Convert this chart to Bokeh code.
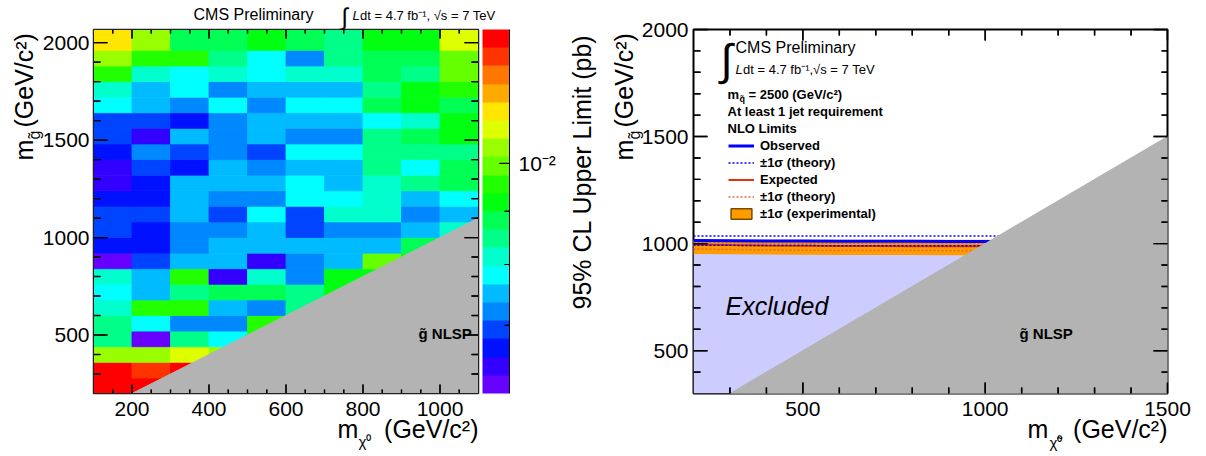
import math
from bokeh.plotting import figure
from bokeh.layouts import row
from bokeh.models import (ColumnDataSource, LogColorMapper, ColorBar, FixedTicker, Label,
                          SingleIntervalTicker, Legend, LegendItem, Range1d, Arrow,
                          BoxAnnotation)
from bokeh.embed import file_html
from bokeh.resources import INLINE

FONT = "Liberation Sans"
N = None

# ---------------- data : left panel (95% CL upper limit map, pb) ----------------
mchi_edges = [100, 200, 300, 400, 500, 600, 700, 800, 900, 1000, 1100]
mgluino_edges = [200, 280, 360, 440, 520, 600, 680, 760, 840, 920, 1000, 1080, 1160,
                 1240, 1320, 1400, 1480, 1560, 1640, 1720, 1800, 1880, 1960, 2067]
# rows from bottom (m_gluino 200-280) to top, columns m_chi 100..1100
upper_limit_pb = [
    [0.01315, 0.01315, N, N, N, N, N, N, N, N],
    [0.01315, 0.01263, 0.01315, N, N, N, N, N, N, N],
    [0.01034, 0.01034, 0.01076, 0.01034, N, N, N, N, N, N],
    [0.00846, 0.00614, 0.00846, 0.00781, 0.00954, N, N, N, N, N],
    [0.00846, 0.00781, 0.00721, 0.00721, 0.00954, N, N, N, N, N],
    [0.00813, 0.00954, 0.00954, 0.00750, 0.00721, 0.00846, N, N, N, N],
    [0.00781, 0.00750, 0.00846, 0.00881, 0.00881, 0.00846, 0.00917, N, N, N],
    [0.00813, 0.00750, 0.00954, 0.00639, 0.00813, 0.00721, 0.00917, 0.00917, N, N],
    [0.00614, 0.00693, 0.00750, 0.00750, 0.00639, 0.00721, 0.00750, 0.00993, 0.00917, N],
    [0.00665, 0.00665, 0.00721, 0.00750, 0.00750, 0.00750, 0.00750, 0.00750, 0.00881, N],
    [0.00693, 0.00665, 0.00721, 0.00721, 0.00750, 0.00693, 0.00721, 0.00721, 0.00750, 0.00813],
    [0.00693, 0.00693, 0.00750, 0.00693, 0.00781, 0.00693, 0.00813, 0.00813, 0.00721, 0.00750],
    [0.00665, 0.00665, 0.00750, 0.00721, 0.00721, 0.00781, 0.00781, 0.00813, 0.00750, 0.00781],
    [0.00639, 0.00665, 0.00750, 0.00750, 0.00750, 0.00781, 0.00750, 0.00813, 0.00846, 0.00881],
    [0.00639, 0.00693, 0.00665, 0.00750, 0.00721, 0.00750, 0.00750, 0.00846, 0.00781, 0.00881],
    [0.00665, 0.00721, 0.00693, 0.00721, 0.00693, 0.00781, 0.00781, 0.00846, 0.00846, 0.00846],
    [0.00693, 0.00639, 0.00750, 0.00721, 0.00750, 0.00721, 0.00721, 0.00846, 0.00881, 0.00917],
    [0.00693, 0.00693, 0.00665, 0.00721, 0.00750, 0.00750, 0.00750, 0.00781, 0.00813, 0.00917],
    [0.00781, 0.00750, 0.00721, 0.00781, 0.00721, 0.00781, 0.00781, 0.00881, 0.00917, 0.00881],
    [0.00813, 0.00750, 0.00781, 0.00721, 0.00750, 0.00750, 0.00750, 0.00846, 0.00917, 0.00954],
    [0.00954, 0.00813, 0.00781, 0.00813, 0.00781, 0.00813, 0.00813, 0.00881, 0.00846, 0.00993],
    [0.01034, 0.00954, 0.00954, 0.00846, 0.00781, 0.00721, 0.00846, 0.00881, 0.00881, 0.00993],
    [0.01120, 0.01034, 0.00881, 0.00881, 0.00917, 0.00881, 0.00846, 0.00917, 0.00917, 0.01076],
]
z_low, z_high = 0.00602, 0.01343
palette = ["#6600FF", "#3300FF", "#0011FF", "#0044FF", "#0088FF", "#00BBFF", "#00FFFF",
           "#00FFCC", "#00FF88", "#00FF55", "#00FF11", "#22FF00", "#66FF00", "#99FF00",
           "#DDFF00", "#FFE600", "#FFAA00", "#FF7700", "#FF3300", "#FF0000"]
cbar_ticks = [0.01]
cbar_minor_ticks = [0.007, 0.008, 0.009]
cbar_labels = {0.01: "10⁻²"}
nlsp_left_x = [200, 1100, 1100]
nlsp_left_y = [200, 200, 1100]

# tick values (left panel)
L_xmajor = [200, 400, 600, 800, 1000]
L_xminor = [150, 250, 300, 350, 450, 500, 550, 650, 700, 750, 850, 900, 950, 1050]
L_ymajor = [500, 1000, 1500, 2000]
L_yminor = [300, 400, 600, 700, 800, 900, 1100, 1200, 1300, 1400, 1600, 1700, 1800, 1900]

# ---------------- data : right panel (exclusion contours) ----------------
mchi = [200, 300, 400, 500, 600, 700, 800, 900, 1000, 1100]
observed = [1014, 1013, 1012, 1012, 1011, 1011, 1011, 1010, 1010, 1010]
observed_up = [1036, 1036, 1035, 1035, 1035, 1035, 1035, 1035, 1035, 1035]
observed_dn = [993, 992, 991, 991, 990, 990, 990, 990, 990, 990]
expected = [996, 993, 991, 990, 989, 989, 988, 988, 988, 988]
expected_th_up = [1006, 1004, 1003, 1002, 1002, 1001, 1001, 1001, 1001, 1001]
expected_th_dn = [975, 972, 970, 969, 968, 968, 968, 967, 967, 967]
expected_exp_up = [1019, 1018, 1018, 1018, 1018, 1018, 1018, 1018, 1018, 1018]
expected_exp_dn = [952, 950, 949, 948, 947, 947, 947, 946, 946, 946]
nlsp_right_x = [300, 1500, 1500]
nlsp_right_y = [300, 300, 1500]

R_xmajor = [500, 1000, 1500]
R_xminor = [300, 400, 600, 700, 800, 900, 1100, 1200, 1300, 1400]
R_ymajor = [500, 1000, 1500, 2000]
R_yminor = [400, 600, 700, 800, 900, 1100, 1200, 1300, 1400, 1600, 1700, 1800, 1900]

# ---------------- layout constants (page pixels) ----------------
L_X, L_Y = (100, 1100), (200, 2067)
L_FRAME = (93, 478, 29, 393)          # left, right, top, bottom
R_X, R_Y = (200, 1500), (300, 2000)
R_FRAME = (693, 1167, 29, 393)
CB_BOX = (482, 509)


def style_axis(ax, standoff):
    ax.major_label_text_font = FONT
    ax.major_label_text_font_size = "21px"
    ax.major_label_text_color = "black"
    ax.axis_line_color = None
    ax.major_tick_in = 0
    ax.major_tick_out = 0
    ax.minor_tick_in = 0
    ax.minor_tick_out = 0
    ax.major_label_standoff = standoff
    ax.axis_label = None


def make_fig(width, xr, yr, fr, fig_left):
    l, r, t, b = fr
    p = figure(width=width, height=456, x_range=Range1d(*xr), y_range=Range1d(*yr),
               output_backend="svg", toolbar_location=None, title=None,
               min_border_left=l - fig_left, min_border_right=fig_left + width - r,
               min_border_top=t, min_border_bottom=456 - b)
    p.grid.visible = False
    p.background_fill_color = "white"
    p.border_fill_color = "white"
    p.outline_line_color = "black"
    return p


def tick_segments(xr, yr, fr, xmaj, xmin, ymaj, ymin, lxM, lxm, lyM, lym, lym_r):
    """ROOT-style inward ticks on all four frame sides, in page pixels."""
    l, r, t, b = fr
    seg = dict(x0=[], y0=[], x1=[], y1=[])

    def add(a, b_, c, d):
        seg["x0"].append(a); seg["y0"].append(b_); seg["x1"].append(c); seg["y1"].append(d)

    for vals, ln in ((xmaj, lxM), (xmin, lxm)):
        for v in vals:
            X = l + (v - xr[0]) * (r - l) / (xr[1] - xr[0])
            add(X, b, X, b - ln)
            add(X, t, X, t + ln)
    for vals, ln, lnr in ((ymaj, lyM, lyM), (ymin, lym, lym_r)):
        for v in vals:
            Y = b - (v - yr[0]) * (b - t) / (yr[1] - yr[0])
            add(l, Y, l + ln, Y)
            add(r, Y, r - lnr, Y)
    return seg


def inner_ticks(p, xr, yr, fr, seg, width):
    """Same ticks drawn inside the panel itself, in its data units."""
    l, r, t, b = fr
    to_x = lambda px: xr[0] + (px - l) * (xr[1] - xr[0]) / (r - l)
    to_y = lambda py: yr[0] + (b - py) * (yr[1] - yr[0]) / (b - t)
    xs = [[to_x(a), to_x(c)] for a, c in zip(seg["x0"], seg["x1"])]
    ys = [[to_y(a), to_y(c)] for a, c in zip(seg["y0"], seg["y1"])]
    p.multi_line(xs=xs, ys=ys, line_color="black", line_width=width)


L_seg = tick_segments(L_X, L_Y, L_FRAME, L_xmajor, L_xminor, L_ymajor, L_yminor, 9, 4, 14, 7, 7)
R_seg = tick_segments(R_X, R_Y, R_FRAME, R_xmajor, R_xminor, R_ymajor, R_yminor, 11, 6, 14, 7, 6)

# ================= LEFT PANEL =================
p1 = make_fig(560, L_X, L_Y, L_FRAME, 0)
p1.outline_line_width = 1.5
p1.outline_line_color = "#222222"
style_axis(p1.below[0], 8)
style_axis(p1.left[0], 4)
p1.below[0].ticker = FixedTicker(ticks=L_xmajor)
p1.left[0].ticker = FixedTicker(ticks=L_ymajor)

mapper = LogColorMapper(palette=palette, low=z_low, high=z_high)
cells = dict(left=[], right=[], bottom=[], top=[], limit=[])
for j, vals in enumerate(upper_limit_pb):
    for i, v in enumerate(vals):
        if v is None:
            continue
        cells["left"].append(mchi_edges[i])
        cells["right"].append(mchi_edges[i + 1])
        cells["bottom"].append(mgluino_edges[j])
        cells["top"].append(mgluino_edges[j + 1])
        cells["limit"].append(v)
p1.quad(left="left", right="right", bottom="bottom", top="top",
        source=ColumnDataSource(cells),
        fill_color={"field": "limit", "transform": mapper},
        line_color={"field": "limit", "transform": mapper}, line_width=0.8)
p1.patch(nlsp_left_x, nlsp_left_y, fill_color="#B3B3B3", line_color="#B3B3B3")
inner_ticks(p1, L_X, L_Y, L_FRAME, L_seg, 1.3)

cb = ColorBar(color_mapper=mapper,
              ticker=FixedTicker(ticks=cbar_ticks, minor_ticks=cbar_minor_ticks),
              major_label_overrides=cbar_labels, width=27, height=364,
              margin=0, padding=0, location=(4, 0),
              major_tick_in=10, major_tick_out=0, minor_tick_in=5, minor_tick_out=0,
              major_tick_line_color="black", minor_tick_line_color="black",
              bar_line_color=None, border_line_color=None, background_fill_alpha=0,
              major_label_text_font=FONT, major_label_text_font_size="21px",
              major_label_text_color="black", label_standoff=9)
p1.add_layout(cb, "right")

# ================= RIGHT PANEL =================
p2 = make_fig(646, R_X, R_Y, R_FRAME, 560)
p2.outline_line_width = 2
style_axis(p2.below[0], 8)
style_axis(p2.left[0], 5)
p2.below[0].ticker = SingleIntervalTicker(interval=500)
p2.left[0].ticker = SingleIntervalTicker(interval=500)

BLUE = "#0000FF"
RED = "#DD3311"
ORANGE_DOT = "#E86A3C"
BAND = "#FF9C00"

p2.varea(x=mchi, y1=[R_Y[0]] * len(mchi), y2=observed, fill_color="#CCCCFF")
p2.varea(x=mchi, y1=expected_exp_dn, y2=expected_exp_up, fill_color=BAND)
r_eth = p2.line(mchi, expected_th_up, line_color=ORANGE_DOT, line_width=1.5, line_dash="2 2")
p2.line(mchi, expected_th_dn, line_color=ORANGE_DOT, line_width=1.5, line_dash="2 2")
r_exp = p2.line(mchi, expected, line_color=RED, line_width=2)
r_oth = p2.line(mchi, observed_up, line_color=BLUE, line_width=1.5, line_dash="2 2")
p2.line(mchi, observed_dn, line_color=BLUE, line_width=1.5, line_dash="2 2")
r_obs = p2.line(mchi, observed, line_color=BLUE, line_width=3)
nan = float("nan")
r_band = p2.quad(left=[nan], right=[nan], top=[nan], bottom=[nan], fill_color=BAND,
                 line_color="#7A4A00", line_width=1.5)
p2.patch(nlsp_right_x, nlsp_right_y, fill_color="#B3B3B3", line_color="#B3B3B3")
inner_ticks(p2, R_X, R_Y, R_FRAME, R_seg, 1.4)

legend = Legend(items=[LegendItem(label="Observed", renderers=[r_obs]),
                       LegendItem(label="±1σ (theory)", renderers=[r_oth]),
                       LegendItem(label="Expected", renderers=[r_exp]),
                       LegendItem(label="±1σ (theory)", renderers=[r_eth]),
                       LegendItem(label="±1σ (experimental)", renderers=[r_band])],
                location=(35, 172), glyph_width=26, glyph_height=13, label_height=13,
                label_standoff=6, spacing=2, padding=0, margin=0,
                border_line_color=None, background_fill_alpha=0,
                label_text_font=FONT, label_text_font_style="bold",
                label_text_font_size="13px", label_text_color="black")
p2.add_layout(legend)

# ================= OVERLAY (titles, axis titles, ticks; page-pixel coordinates) =====
ov = figure(width=1206, height=456, x_range=Range1d(0, 1206), y_range=Range1d(456, 0),
            output_backend="svg", toolbar_location=None, title=None, min_border=0,
            x_axis_location=None, y_axis_location=None)
ov.grid.visible = False
ov.outline_line_color = None
ov.background_fill_alpha = 0
ov.border_fill_alpha = 0
ov.styles = {"position": "absolute", "left": "0px", "top": "0px", "z-index": "10"}

for seg, w in ((L_seg, 1.2), (R_seg, 1.4)):
    ov.add_layout(Arrow(end=None, source=ColumnDataSource(seg), x_start="x0", y_start="y0",
                        x_end="x1", y_end="y1", line_color="black", line_width=w,
                        level="overlay"))

l, r, t, b = L_FRAME
ov.add_layout(BoxAnnotation(left=l, right=r, top=t, bottom=b, fill_alpha=0,
                            line_color="#222222", line_alpha=1, line_width=1,
                            level="overlay"))
lg0, lg1 = math.log10(z_low), math.log10(z_high)
cb_seg = dict(x0=[CB_BOX[1]], y0=[t], x1=[CB_BOX[1]], y1=[b])
for vals, ln in ((cbar_ticks, 10), (cbar_minor_ticks, 5)):
    for v in vals:
        Y = b - (math.log10(v) - lg0) / (lg1 - lg0) * (b - t)
        cb_seg["x0"].append(CB_BOX[1]); cb_seg["x1"].append(CB_BOX[1] - ln)
        cb_seg["y0"].append(Y); cb_seg["y1"].append(Y)
ov.add_layout(Arrow(end=None, source=ColumnDataSource(cb_seg), x_start="x0", y_start="y0",
                    x_end="x1", y_end="y1", line_color="black", line_width=1,
                    level="overlay"))


def put(px, py, text, size, style="normal", angle=0.0, align="left", baseline="alphabetic"):
    if baseline == "alphabetic":
        # place by the text baseline: anchor the middle of the line 0.35 em above it
        px -= 0.35 * size * math.sin(angle)
        py -= 0.35 * size * math.cos(angle)
        baseline = "middle"
    ov.add_layout(Label(x=px, y=py, text=text, text_font=FONT, text_font_size=f"{size}px",
                        text_font_style=style, angle=angle, text_align=align,
                        text_baseline=baseline, text_color="black", level="overlay"))


# left panel texts
put(193, 20, "CMS Preliminary", 16)
put(341, 16, "∫", 24, baseline="middle")
put(352, 20, "L", 13, style="italic")
put(359.5, 20, "dt = 4.7 fb⁻¹, √s = 7 TeV", 13)
put(32, 160, "m", 25, angle=math.pi / 2)
put(40, 139, "g\u0303", 16, angle=math.pi / 2)
put(32, 127, "(GeV/c²)", 25, angle=math.pi / 2)
put(337, 437, "m", 25)
put(358, 446, "χ⁰", 15)
put(478, 437, "(GeV/c²)", 25, align="right")
put(418, 333, "g\u0303 NLSP", 15, style="bold", baseline="middle")

# right panel texts
put(735, 53, "CMS Preliminary", 16)
put(720, 59, "∫", 44, baseline="middle")
put(735, 74, "L", 13, style="italic")
put(742.5, 74, "dt = 4.7 fb⁻¹,√s = 7 TeV", 13)
put(727, 99, "m", 13, style="bold")
put(739, 102, "q\u0303", 9, style="bold")
put(748, 99, "= 2500 (GeV/c²)", 13, style="bold")
put(727, 116, "At least 1 jet requirement", 13, style="bold")
put(727, 133, "NLO Limits", 13, style="bold")
put(725, 305, "Excluded", 25, style="italic", baseline="middle")
put(1019, 333, "g\u0303 NLSP", 15, style="bold", baseline="middle")
put(590, 309, "95% CL Upper Limit (pb)", 25, angle=math.pi / 2)
put(632, 160, "m", 25, angle=math.pi / 2)
put(640, 139, "g\u0303", 16, angle=math.pi / 2)
put(632, 127, "(GeV/c²)", 25, angle=math.pi / 2)
put(1027, 437, "m", 25)
put(1049, 447, "χ\u0303⁰", 15)
put(1167, 437, "(GeV/c²)", 25, align="right")

panels = row(p1, p2, spacing=0)
open("out.html", "w").write(file_html([panels, ov], INLINE))
